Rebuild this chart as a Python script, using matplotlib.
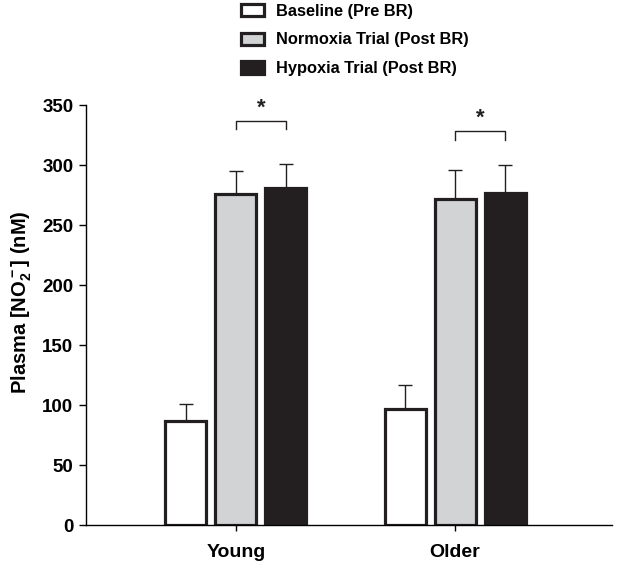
import matplotlib
matplotlib.use("Agg")
import matplotlib.pyplot as plt
import numpy as np

plt.rcParams['font.family'] = ['Liberation Sans', 'DejaVu Sans']
plt.rcParams['font.weight'] = 'bold'
plt.rcParams['mathtext.fontset'] = 'custom'
plt.rcParams['mathtext.rm'] = 'Liberation Sans:bold'
plt.rcParams['mathtext.bf'] = 'Liberation Sans:bold'
plt.rcParams['mathtext.default'] = 'bf'

# data
groups = ['Young', 'Older']
series = ['Baseline (Pre BR)', 'Normoxia Trial (Post BR)', 'Hypoxia Trial (Post BR)']
baseline = [87, 97]
normoxia = [276, 272]
hypoxia = [281, 277]
baseline_err = [14, 20]
normoxia_err = [19, 24]
hypoxia_err = [20, 23]
sig_pairs = [(0, 1, 2), (1, 1, 2)]  # group, bar a, bar b
sig_heights = [337, 328]

values = [baseline, normoxia, hypoxia]
errors = [baseline_err, normoxia_err, hypoxia_err]
fills = ['white', '#d1d3d4', '#231f20']
edges = ['#231f20', '#231f20', '#231f20']

fig = plt.figure(figsize=(6.26, 5.66), dpi=100)
ax = fig.add_axes([0.137, 0.0724, 0.841, 0.742])

x = np.arange(len(groups))
width = 0.187
offset = 0.228

for i, (vals, errs) in enumerate(zip(values, errors)):
    pos = x + (i - 1) * offset
    ax.bar(pos, vals, width, color=fills[i], edgecolor=edges[i], linewidth=2.3,
           label=series[i], zorder=2)
    ax.errorbar(pos, vals, yerr=[np.zeros(len(errs)), errs], fmt='none',
                ecolor='#231f20', elinewidth=1.0, capsize=5, capthick=1.0, zorder=1)

# significance brackets
for (g, a, b), h in zip(sig_pairs, sig_heights):
    xa = x[g] + (a - 1) * offset
    xb = x[g] + (b - 1) * offset
    ax.plot([xa, xa, xb, xb], [h - 7, h, h, h - 7], color='#231f20', lw=1.0)
    ax.text((xa + xb) / 2, h + 2, '*', ha='center', va='bottom', fontsize=16,
            fontweight='bold', color='#231f20')

ax.set_xlim(-0.685, 1.717)
ax.set_ylim(0, 350)
ax.set_yticks(np.arange(0, 351, 50))
ax.set_xticks(x)
ax.set_xticklabels(groups, fontsize=14, fontweight='bold')
ax.tick_params(axis='y', labelsize=13.5, length=5, width=1, direction='out', pad=4)
ax.tick_params(axis='x', length=4, width=1, direction='out', pad=10)
for lab in ax.get_yticklabels():
    lab.set_fontweight('bold')
ax.spines['top'].set_visible(False)
ax.spines['right'].set_visible(False)
ax.spines['left'].set_linewidth(1.0)
ax.spines['bottom'].set_linewidth(1.0)
ax.set_ylabel(r'Plasma [NO$_2^-$] (nM)', fontsize=14.5, fontweight='bold')
ax.yaxis.set_label_coords(-0.098, 0.53)

fig.legend(loc='upper left', bbox_to_anchor=(0.366, 1.014), frameon=False,
           fontsize=11.8, handlelength=1.45, handleheight=0.8, handletextpad=0.7,
           labelspacing=0.85, borderaxespad=0.3)

fig.savefig('out.png', dpi=100)
